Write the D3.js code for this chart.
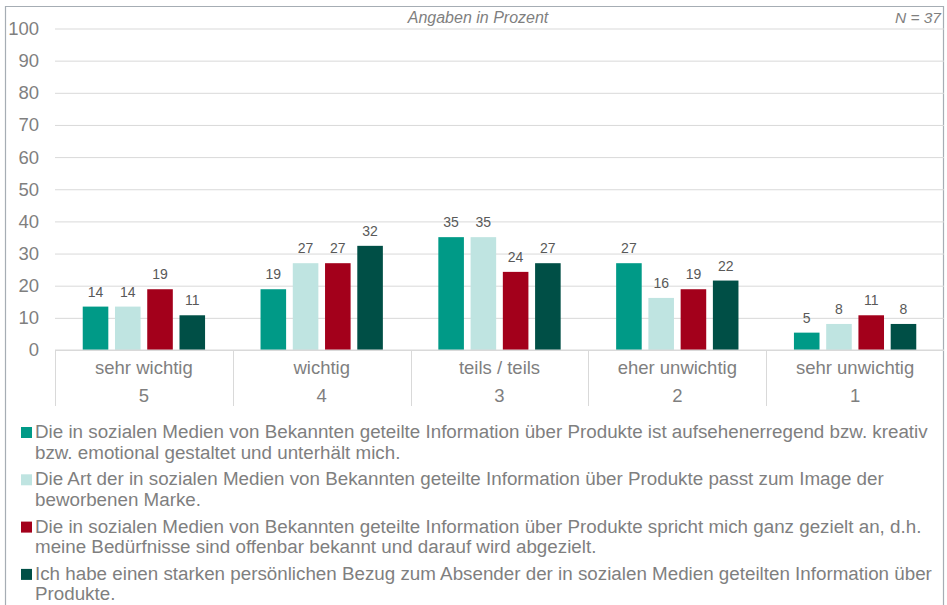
<!DOCTYPE html>
<html>
<head>
<meta charset="utf-8">
<script src="https://cdn.jsdelivr.net/npm/d3@7"></script>
<style>
  body { margin: 0; background: #fff; }
  svg { display: block; font-family: "Liberation Sans", Arial, sans-serif; }
</style>
</head>
<body>
<svg id="chart" width="947" height="605"></svg>
<script>
// categories (label / scale value)
var categories = ['sehr wichtig', 'wichtig', 'teils / teils', 'eher unwichtig', 'sehr unwichtig'];
var categoryCodes = ['5', '4', '3', '2', '1'];

// series names, "\n" marks where the legend line breaks
var seriesNames = [
    'Die in sozialen Medien von Bekannten geteilte Information über Produkte ist aufsehenerregend bzw. kreativ\nbzw. emotional gestaltet und unterhält mich.',
    'Die Art der in sozialen Medien von Bekannten geteilte Information über Produkte passt zum Image der\nbeworbenen Marke.',
    'Die in sozialen Medien von Bekannten geteilte Information über Produkte spricht mich ganz gezielt an, d.h.\nmeine Bedürfnisse sind offenbar bekannt und darauf wird abgezielt.',
    'Ich habe einen starken persönlichen Bezug zum Absender der in sozialen Medien geteilten Information über\nProdukte.'
];
var seriesColors = ['#009a87', '#bfe4e1', '#a3001b', '#004f46'];

// percent values per series, in category order
var series1 = [13.5, 18.9, 35.1, 27.0, 5.4];
var series2 = [13.5, 27.0, 35.1, 16.2, 8.1];
var series3 = [18.9, 27.0, 24.3, 18.9, 10.8];
var series4 = [10.8, 32.4, 27.0, 21.6, 8.1];
var seriesValues = [series1, series2, series3, series4];

var yTicks = [0, 10, 20, 30, 40, 50, 60, 70, 80, 90, 100];

var svg = d3.select('#chart');
var gray = '#7f7f7f';

// outer frame
svg.append('path')
   .attr('d', 'M5.5,640 V6.5 H943.5 V640')
   .attr('fill', 'none').attr('stroke', '#a6adb4').attr('stroke-width', 1.2);

var plotLeft = 55, plotRight = 944, plotTop = 28.5, plotBottom = 350;

var y = d3.scaleLinear().domain([0, 100]).range([plotBottom, plotTop]);
var x0 = d3.scaleBand().domain(categories).range([plotLeft, plotRight]).padding(0);
var x1 = d3.scaleBand().domain(d3.range(seriesNames.length))
           .range([0, x0.bandwidth()]).paddingInner(0.207).paddingOuter(0.86);

// gridlines and y labels
var yAxis = svg.append('g')
   .attr('transform', 'translate(' + plotLeft + ',0)')
   .call(d3.axisLeft(y).tickValues(yTicks).tickSize(-(plotRight - plotLeft)).tickPadding(16));
yAxis.select('.domain').remove();
yAxis.selectAll('.tick line').attr('stroke', '#d9d9d9').attr('stroke-width', 1);
yAxis.selectAll('.tick text').attr('fill', gray).style('font-size', '18.5px')
     .style('font-family', '"Liberation Sans", Arial, sans-serif');

// bars
var groups = svg.append('g').selectAll('g')
   .data(categories).join('g')
   .attr('transform', function(c) { return 'translate(' + x0(c) + ',0)'; });

groups.selectAll('rect')
   .data(function(c, ci) { return seriesValues.map(function(s, si) { return { si: si, v: s[ci] }; }); })
   .join('rect')
   .attr('x', function(d) { return x1(d.si); })
   .attr('width', x1.bandwidth())
   .attr('y', function(d) { return y(d.v); })
   .attr('height', function(d) { return y(0) - y(d.v); })
   .attr('fill', function(d) { return seriesColors[d.si]; });

groups.selectAll('text')
   .data(function(c, ci) { return seriesValues.map(function(s, si) { return { si: si, v: s[ci] }; }); })
   .join('text')
   .attr('x', function(d) { return x1(d.si) + x1.bandwidth() / 2; })
   .attr('y', function(d) { return y(d.v) - 10; })
   .attr('text-anchor', 'middle')
   .attr('fill', '#595959').style('font-size', '14px')
   .text(function(d) { return d3.format('.0f')(d.v); });

// category axis with separators
var xAxis = svg.append('g');
xAxis.append('line')
   .attr('x1', plotLeft).attr('x2', plotRight).attr('y1', plotBottom).attr('y2', plotBottom)
   .attr('stroke', '#d9d9d9');
var seps = categories.map(function(c) { return x0(c); });
xAxis.selectAll('line.sep').data(seps).join('line')
   .attr('class', 'sep')
   .attr('x1', function(d) { return Math.round(d) + 0.5; })
   .attr('x2', function(d) { return Math.round(d) + 0.5; })
   .attr('y1', plotBottom).attr('y2', 406)
   .attr('stroke', '#d9d9d9');
xAxis.selectAll('text.cat').data(categories).join('text')
   .attr('class', 'cat')
   .attr('x', function(c) { return x0(c) + x0.bandwidth() / 2; })
   .attr('y', 374)
   .attr('text-anchor', 'middle').attr('fill', gray).style('font-size', '18.5px')
   .text(function(c) { return c; });
xAxis.selectAll('text.code').data(categories).join('text')
   .attr('class', 'code')
   .attr('x', function(c) { return x0(c) + x0.bandwidth() / 2; })
   .attr('y', 402)
   .attr('text-anchor', 'middle').attr('fill', gray).style('font-size', '18.5px')
   .text(function(c, i) { return categoryCodes[i]; });

// header notes
svg.append('text').attr('x', 478).attr('y', 23).attr('text-anchor', 'middle')
   .attr('fill', gray).style('font-size', '16px').style('font-style', 'italic')
   .text('Angaben in Prozent');
svg.append('text').attr('x', 941).attr('y', 23).attr('text-anchor', 'end')
   .attr('fill', gray).style('font-size', '15.5px').style('font-style', 'italic')
   .text('N = 37');

// legend
var legendTop = 438, itemStep = 47.3, lineStep = 20.5;
var legend = svg.append('g').selectAll('g')
   .data(seriesNames).join('g')
   .attr('transform', function(d, i) { return 'translate(0,' + (legendTop + i * itemStep) + ')'; });
legend.append('rect')
   .attr('x', 21).attr('y', -11).attr('width', 11).attr('height', 11)
   .attr('fill', function(d, i) { return seriesColors[i]; });
legend.append('text')
   .attr('fill', gray).style('font-size', '18.8px')
   .selectAll('tspan')
   .data(function(d) { return d.split('\n'); }).join('tspan')
   .attr('x', 35).attr('y', function(d, i) { return i * lineStep; })
   .text(function(d) { return d; });
</script>
</body>
</html>
